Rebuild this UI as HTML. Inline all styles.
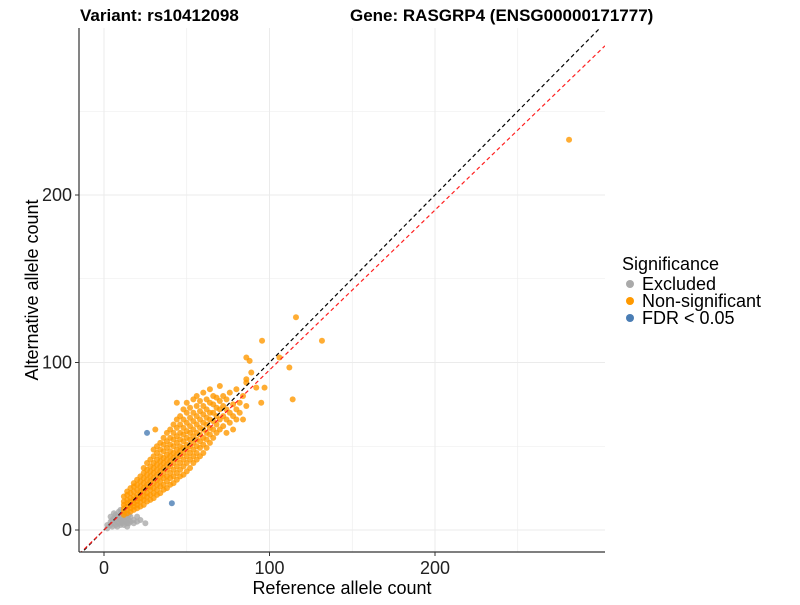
<!DOCTYPE html>
<html><head><meta charset="utf-8"><style>
body{margin:0;background:#fff;font-family:"Liberation Sans",Arial,sans-serif}
svg text{font-family:"Liberation Sans",Arial,sans-serif}
</style></head><body>
<svg id="chart" width="800" height="600" xmlns="http://www.w3.org/2000/svg">
<defs><clipPath id="pc"><rect x="79" y="28" width="526" height="524"/></clipPath></defs>
<rect width="800" height="600" fill="#fff"/>
<g id="grid"></g>
<g id="pts"></g>
<g id="lines" clip-path="url(#pc)"></g>
<line x1="79" y1="28" x2="79" y2="552" stroke="#333" stroke-width="1.2"/>
<line x1="79" y1="552" x2="605" y2="552" stroke="#333" stroke-width="1.2"/>
<g id="ticks"></g>
<text x="80" y="21" font-size="17" font-weight="bold">Variant: rs10412098</text>
<text x="350" y="21" font-size="17" font-weight="bold">Gene: RASGRP4 (ENSG00000171777)</text>
<text x="342" y="594" font-size="18" text-anchor="middle">Reference allele count</text>
<text transform="translate(38,290) rotate(-90)" font-size="18" text-anchor="middle">Alternative allele count</text>
<g>
<text x="622" y="270" font-size="18">Significance</text>
<g><circle cx="630" cy="284" r="4" fill="#aaaaaa"/><text x="642" y="290" font-size="18">Excluded</text></g>
<g><circle cx="630" cy="301" r="4" fill="#ff9900"/><text x="642" y="307" font-size="18">Non-significant</text></g>
<g><circle cx="630" cy="318" r="4" fill="#4a7db4"/><text x="642" y="324" font-size="18">FDR &lt; 0.05</text></g>
</g>
</svg>
<script>
const xTicks=[0,100,200];
const yTicks=[0,100,200];
const orangeRef=[12,14,16,18,20,22,24,26,28,30,32,34,36,38,40,42,44,46,48,50,52,54,56,58,60,62,64,66,68,70,72,74,76,78,80,82,84,86];
const orangeAlt=[[9,11,13,15,17,20],[10,12,14,16,18,21,23],[11,13,15,17,19,22,25],[12,14,16,18,20,23,26,28],[13,15,17,19,21,24,27,30],[14,17,19,21,23,26,29,32],[15,18,20,23,25,28,31,34,37],[17,20,22,25,27,30,33,36,40],[18,21,24,26,29,32,35,38,42],[19,22,25,28,31,34,37,40,44,48],[21,24,27,30,33,36,39,42,46,50],[22,26,29,32,35,38,41,44,48,52],[24,27,31,34,37,40,43,47,51,55],[25,29,32,36,39,42,45,49,53,58],[27,31,34,38,41,44,47,51,55,60],[28,32,36,40,43,46,50,54,58,63],[30,34,38,42,45,48,52,56,61,66],[32,36,40,44,47,50,54,58,63,68],[33,38,42,46,49,53,57,61,66,72],[35,40,44,48,51,55,59,64,70,76],[37,42,46,50,54,58,62,67,73],[40,44,48,52,56,60,65,70,78],[42,46,50,54,58,63,68,74,80],[44,49,53,57,61,66,71,77],[46,51,55,60,64,69,74,82],[49,54,58,63,67,72,78],[52,57,61,66,70,76,84],[55,60,65,70,75,80],[58,63,68,73,79],[60,66,72,77,86],[62,68,74,80],[58,66,72,78],[64,70,82],[60,68,75],[66,72,84],[70,76],[66,80],[74,88]];
const outlierRef=[281,116,95.5,131.7,86,88,106,112,114,89,86,95,97,92,44,31];
const outlierAlt=[233,127,113,113,103,101,103,97,78,94,90,76,85,85,76,60];
const grayRef=[2,4,5,6,7,8,9,10,11,12,13,14,15,16,18,20,22,25];
const grayAlt=[[1,3],[3,5,8],[2,6],[4,7,10],[3,6,9],[5,8,2],[4,7,11],[3,6,9,12],[5,8,4],[3,6,10],[5,8],[4,7,2],[6,9,4],[5,8],[6,4],[5,8],[6],[4]];
const blueRef=[26,41];
const blueAlt=[58,16];
const NS="http://www.w3.org/2000/svg";
const xs=v=>104+v*1.655, ys=v=>530-v*1.675;
function mk(t,a,p){const e=document.createElementNS(NS,t);for(const k in a)e.setAttribute(k,a[k]);p.appendChild(e);return e;}
const grid=document.getElementById('grid'),ticks=document.getElementById('ticks'),pts=document.getElementById('pts'),lines=document.getElementById('lines');
[-50,0,50,100,150,200,250].forEach(v=>{const x=xs(v);if(x>79&&x<605){const l=mk('line',{x1:x,x2:x,y1:28,y2:552,stroke:'#ebebeb','stroke-width':v%100===0?1:0.6},grid);}});
[-50,0,50,100,150,200,250].forEach(v=>{const y=ys(v);if(y>28&&y<552){const l=mk('line',{x1:79,x2:605,y1:y,y2:y,stroke:'#ebebeb','stroke-width':v%100===0?1:0.6},grid);}});
xTicks.forEach(v=>{const x=xs(v);mk('line',{x1:x,x2:x,y1:552,y2:556,stroke:'#333'},ticks);const t=mk('text',{x:x,y:574,'font-size':18,'text-anchor':'middle',fill:'#222'},ticks);t.textContent=v;});
yTicks.forEach(v=>{const y=ys(v);mk('line',{x1:75,x2:79,y1:y,y2:y,stroke:'#333'},ticks);const t=mk('text',{x:72,y:y+6,'font-size':18,'text-anchor':'end',fill:'#222'},ticks);t.textContent=v;});
function dot(r,a,c,name){const e=mk('circle',{cx:xs(r),cy:ys(a),r:3,fill:c,'fill-opacity':0.8},pts);}
grayRef.forEach((r,i)=>grayAlt[i].forEach(a=>dot(r,a,'#aaaaaa','point-excluded')));
orangeRef.forEach((r,i)=>orangeAlt[i].forEach(a=>dot(r,a,'#ff9900','point-non-significant')));
outlierRef.forEach((r,i)=>dot(r,outlierAlt[i],'#ff9900','point-non-significant'));
blueRef.forEach((r,i)=>dot(r,blueAlt[i],'#4a7db4','point-fdr'));
const slope=0.955;
const l1=mk('line',{x1:xs(-15),y1:ys(-15),x2:xs(302.7),y2:ys(302.7),stroke:'#000','stroke-dasharray':'4,3','stroke-width':1.2},lines);

const l2=mk('line',{x1:xs(-15),y1:ys(-15*slope),x2:xs(302.7),y2:ys(302.7*slope),stroke:'#ff2020','stroke-dasharray':'4,3','stroke-width':1.2},lines);

</script>
</body></html>
